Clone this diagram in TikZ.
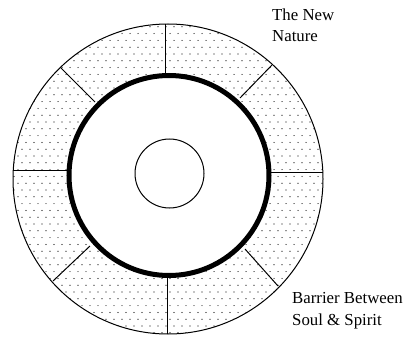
\documentclass[tikz,border=0pt]{standalone}
\usepackage{fontspec}
\setmainfont{Liberation Serif}
\begin{document}
\begin{tikzpicture}[x=1pt,y=-1pt,
  thin line/.style={line width=1pt, black},
  label text/.style={anchor=base west, inner sep=0pt, font=\fontsize{16.8}{21.5}\selectfont, align=left}]
\useasboundingbox (0,0) rectangle (407,337);
% dotted fill of outer ring
\begin{scope}
  \clip (168,179) circle (155);
  \foreach \j in {0,...,48} {
    \pgfmathsetmacro{\yy}{20+6.8*\j}
    \pgfmathsetmacro{\xo}{mod(\j,2)*4}
    \foreach \i in {0,...,42} {
      \fill[black] ({10+\xo+8*\i},\yy) circle (0.6);
    }
  }
\end{scope}
% white interior
\fill[white] (169,175.5) circle (100);
% dividers
\draw[thin line] (13,170) -- (67,170);
\draw[thin line] (271,172) -- (323,172);
\draw[thin line] (165,24) -- (165,74);
\draw[thin line] (167,277) -- (167,334);
\draw[thin line] (61,68) -- (95,102);
\draw[thin line] (272,65) -- (240,98);
\draw[thin line] (53,281) -- (90,246);
\draw[thin line] (278,286) -- (245,249);
% circles
\draw[thin line] (168,179) circle (155);
\draw[line width=5pt] (169,175.5) circle (100);
\draw[thin line] (169.5,173.5) circle (34.5);
% labels (base anchor = last line)
\node[label text] (nn) at (272,42) {The New\\Nature};
\node[label text] (bb) at (292,325) {Barrier Between\\Soul \& Spirit};
\end{tikzpicture}
\end{document}
